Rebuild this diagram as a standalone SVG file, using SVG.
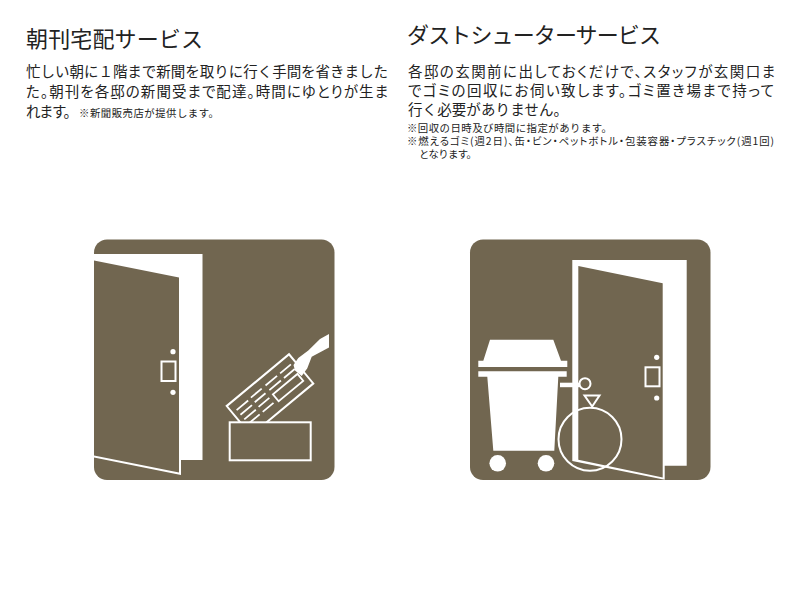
<svg xmlns="http://www.w3.org/2000/svg" width="800" height="600" viewBox="0 0 800 600">
<style>
text{font-family:"Noto Sans CJK JP","Noto Sans",sans-serif;fill:#222;font-weight:400}
.t{font-size:22px}.b{font-size:14.5px}.s{font-size:10.4px}
.p{fill:#716650}.w{fill:#fff}
.o{fill:#716650;stroke:#fff;stroke-width:2}
.n{fill:none;stroke:#fff;stroke-width:2}
.d{stroke:#fff;stroke-width:1.8;fill:none}
</style>
<rect width="800" height="600" fill="#fff"/>
<g id="morning-text">
<text class="t" x="26" y="46.5" textLength="177">朝刊宅配サービス</text>
<text class="b" x="26" y="77" textLength="362">忙しい朝に１階まで新聞を取りに行く手間を省きました</text>
<text class="b" x="26" y="97" textLength="362" style="font-feature-settings:'palt'">た。朝刊を各邸の新聞受まで配達。時間にゆとりが生ま</text>
<text class="b" x="26" y="117" textLength="52">れます。</text>
<text class="s" x="79" y="116.5" textLength="140">※新聞販売店が提供します。</text>
</g>
<g id="dust-text">
<text class="t" x="407" y="43" textLength="254">ダストシューターサービス</text>
<text class="b" x="408" y="77" textLength="367" style="font-feature-settings:'palt'">各邸の玄関前に出しておくだけで、スタッフが玄関口ま</text>
<text class="b" x="408" y="96" textLength="366" style="font-feature-settings:'palt'">でゴミの回収にお伺い致します。ゴミ置き場まで持って</text>
<text class="b" x="408" y="115" textLength="160">行く必要がありません。</text>
<text class="s" x="407" y="132" textLength="205">※回収の日時及び時間に指定があります。</text>
<text class="s" x="407" y="145" textLength="367" style="font-feature-settings:'palt'">※燃えるゴミ(週2日)、缶・ビン・ペットボトル・包装容器・プラスチック(週1回)</text>
<text class="s" x="419" y="158" textLength="58">となります。</text>
</g>
<g id="morning-icon">
<rect class="p" x="94" y="239.5" width="240.5" height="240.5" rx="13"/>
<polygon class="w" points="94,254 202.5,254 202.5,460 181,460 181,475 94,457.5"/>
<polygon class="p" points="94,260.5 179,277.5 179,472.5 94,455.5"/>
<circle class="w" cx="173" cy="351.7" r="2.6"/>
<circle class="w" cx="173" cy="392.3" r="2.6"/>
<rect class="o" x="161.5" y="361.5" width="14" height="19.5"/>
<g transform="translate(226.7 406) rotate(-39.7)">
<rect class="o" width="81" height="38"/>
<path class="d" d="M5 9.5H20M5 15.5H20M5 21.5H20M5 27.5H20M24 9H38M24 15H38M24 21H38M24 27.5H38M43 9H58M43 15H58M62 9H76M62 15H76"/>
<rect class="d" x="43" y="20.5" width="32" height="9"/>
</g>
<polygon class="w" points="329,334 329,347.5 311.7,356.7 307.3,368.3 301.7,376 295,370.5 293.5,365 298.3,358 308.3,350.5 320,339"/>
<rect class="o" x="229.7" y="422.3" width="81" height="38"/>
</g>
<g id="dust-icon">
<rect class="p" x="470" y="239.5" width="240.5" height="240.5" rx="13"/>
<polygon class="w" points="572.3,260 686.7,260 686.7,465.7 664.7,465.7 664.7,479.7 572.3,461"/>
<polygon class="p" points="578.3,266 662.7,283.3 662.7,477.5 578.3,459.8"/>
<circle class="w" cx="656.7" cy="357.3" r="2.6"/>
<circle class="w" cx="656.7" cy="398" r="2.6"/>
<rect class="o" x="645.5" y="367.3" width="14" height="19"/>
<polygon class="w" points="490,339.7 553.3,339.7 561,360.7 567.3,360.7 567.3,367 478.3,367 478.3,360.7 483.3,360.7"/>
<polygon class="w" points="478.3,371.3 566.7,371.3 566.7,376.7 558.3,376.7 554.3,450.7 493.3,450.7 487.3,376.7 478.3,376.7"/>
<circle class="w" cx="497.7" cy="463.3" r="8.3"/>
<circle class="w" cx="546" cy="463.3" r="8.3"/>
<rect class="w" x="560" y="382.7" width="20" height="4.5"/>
<circle class="o" cx="585" cy="383.7" r="5.5"/>
<polygon class="n" points="584.5,395.5 599.5,395.5 592.2,406.5"/>
<circle class="n" cx="590" cy="439.3" r="31.5"/>
</g>
</svg>
